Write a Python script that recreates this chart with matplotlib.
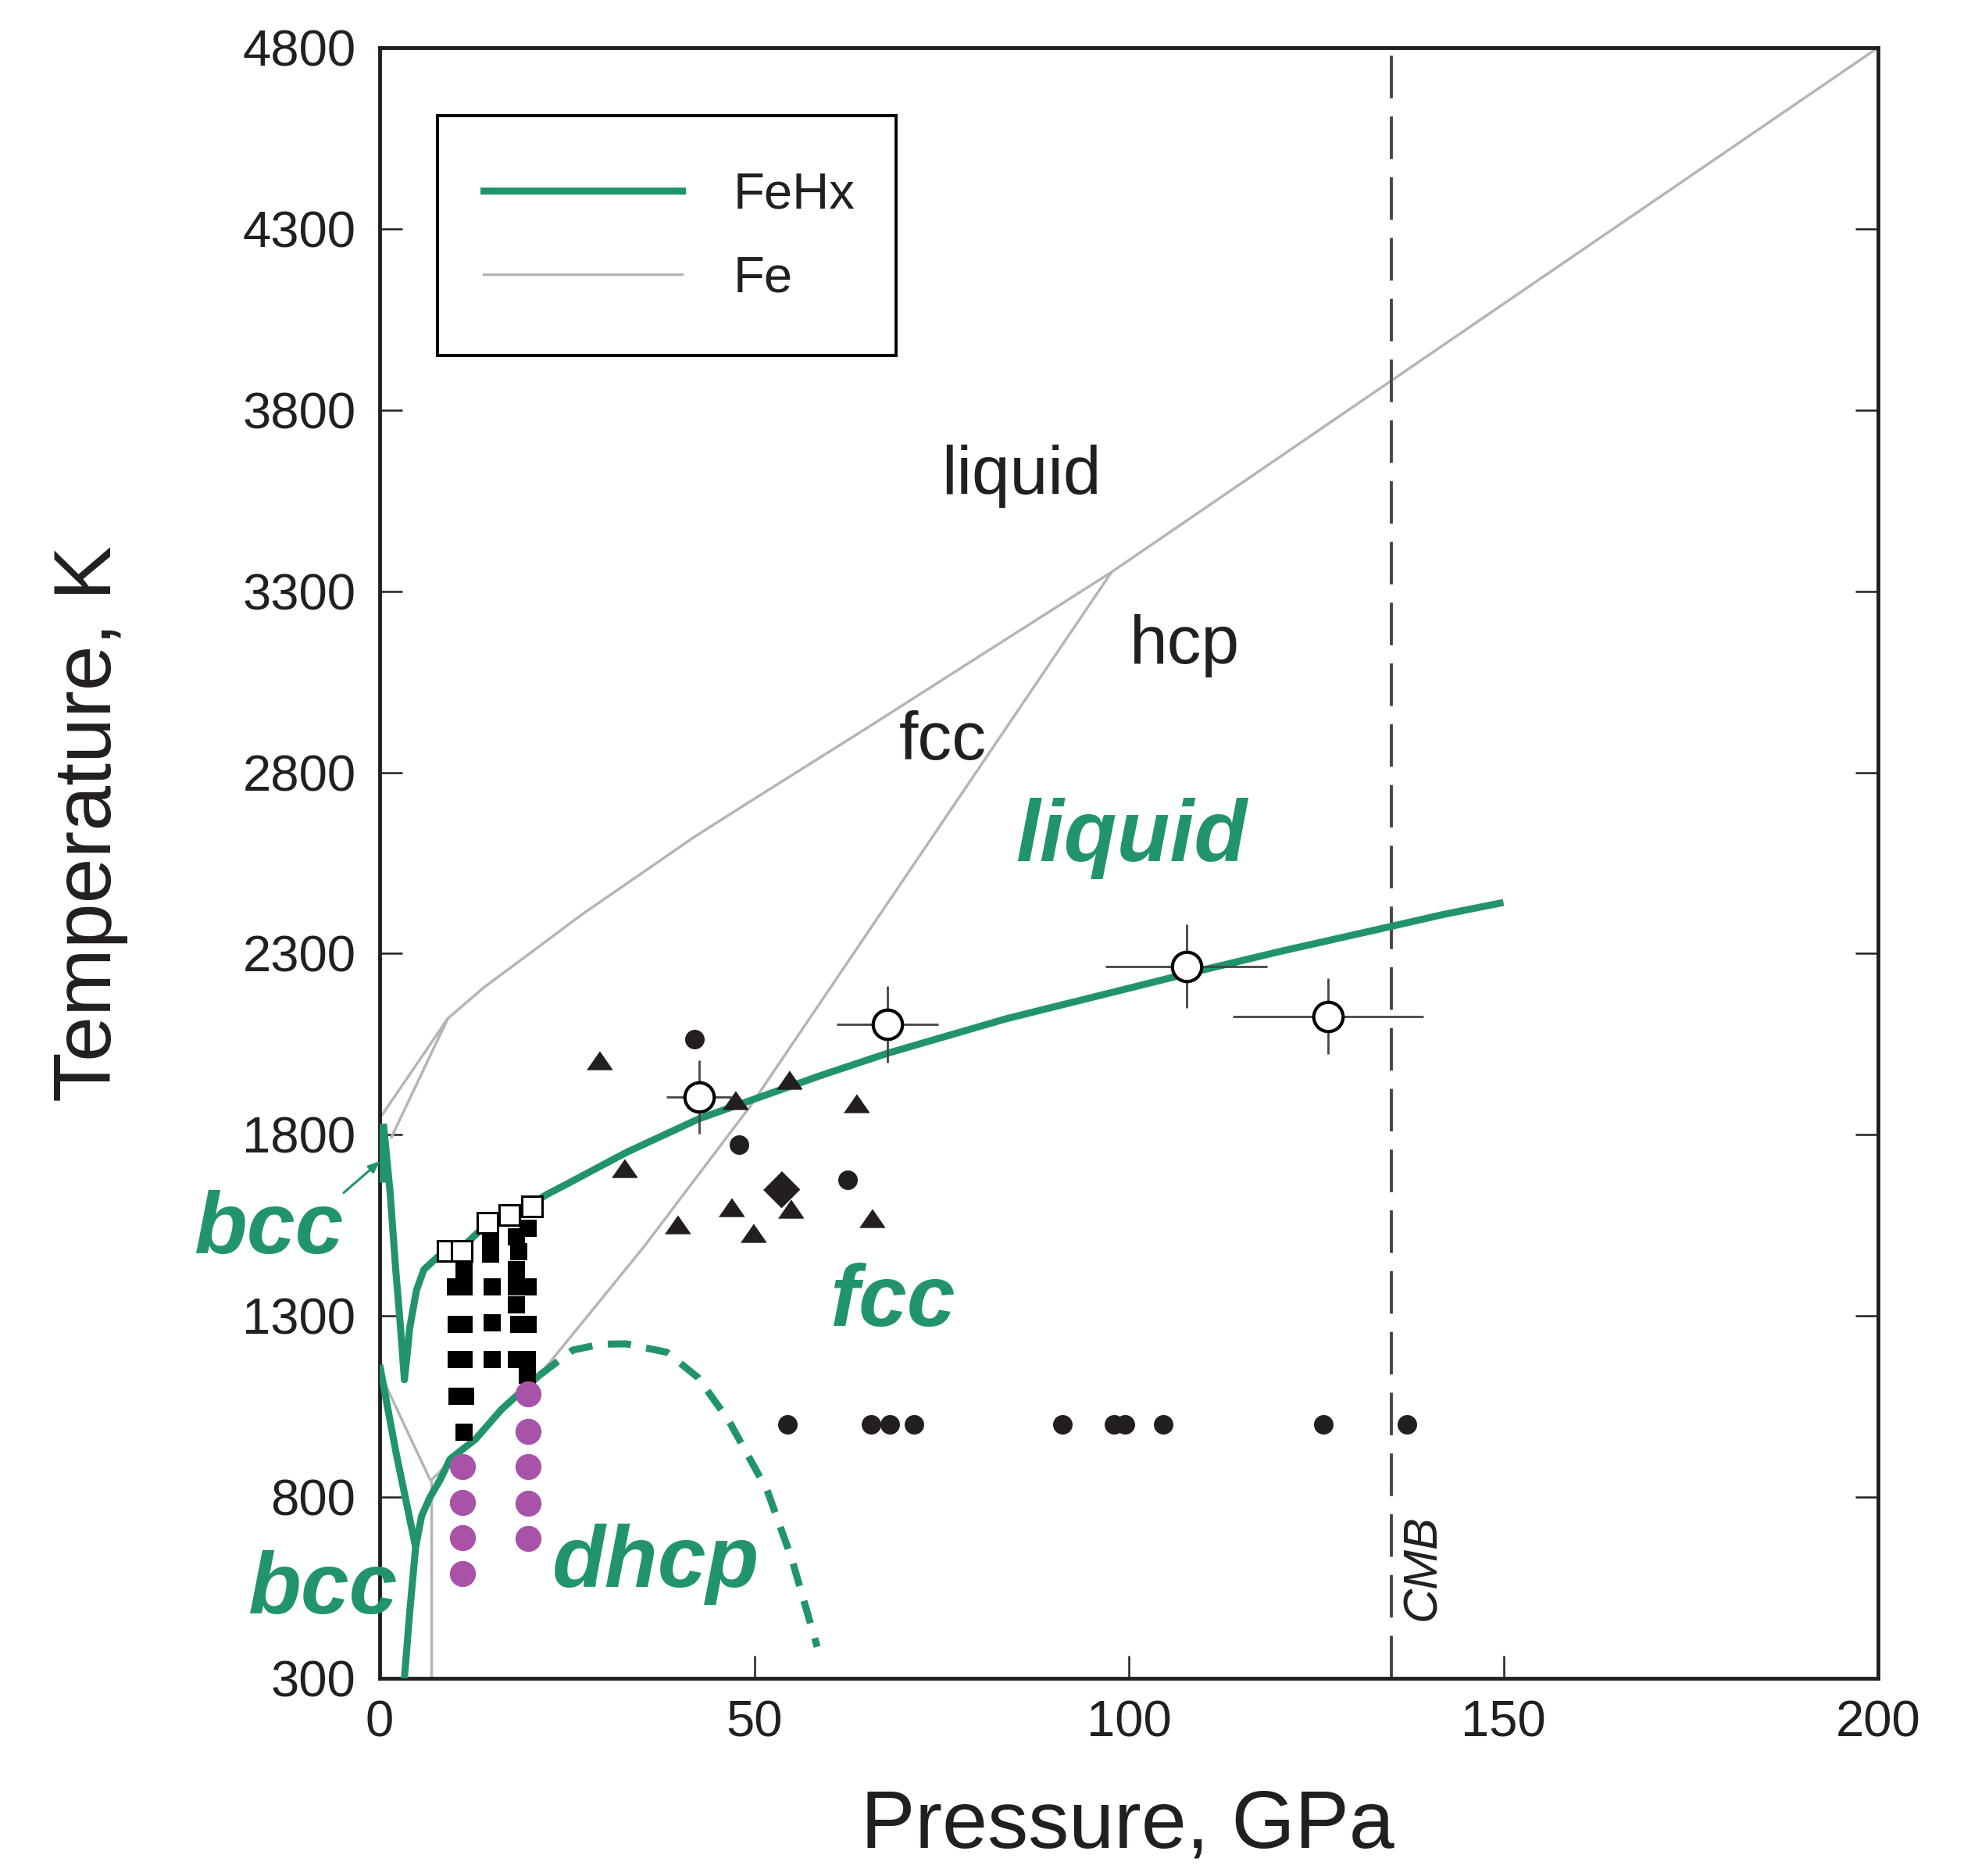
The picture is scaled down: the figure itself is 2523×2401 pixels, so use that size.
import matplotlib
matplotlib.use("Agg")
import matplotlib.pyplot as plt
from matplotlib.lines import Line2D
from matplotlib.patches import Rectangle

plt.rcParams['font.family'] = ['Liberation Sans', 'DejaVu Sans']

# ---------------- data ----------------
x_ticks = [0, 50, 100, 150, 200]
y_ticks = [300, 800, 1300, 1800, 2300, 2800, 3300, 3800, 4300, 4800]

# Fe (grey) phase boundaries
fe_melt_P = [0.0, 9.1, 14.0, 20.0, 27.0, 35.0, 42.0, 50.0, 65.0, 80.0, 97.7, 200.0]
fe_melt_T = [1845, 2121, 2208, 2300, 2408, 2522, 2622, 2727, 2922, 3120, 3353, 4800]
fe_delta_P = [1.5, 9.1]
fe_delta_T = [1790, 2121]
fe_hcp_P = [6.8, 21.3, 35.2, 49.4, 97.7]
fe_hcp_T = [845, 1136, 1489, 1877, 3353]
fe_alpha_P = [0.0, 6.8]
fe_alpha_T = [1144, 845]
fe_vert_P = [6.85, 6.85]
fe_vert_T = [845, 300]

# FeHx (green) boundaries
fehx_melt_P = [0.5, 1.4, 2.1, 2.8, 3.3, 3.7, 4.0, 4.9, 5.9, 7.7, 9.1, 11.3, 14.4,
               17.3, 20.3, 22.3, 24.8, 33.0, 42.6, 58.8, 67.8, 83.6, 107.7, 120.0,
               135.0, 142.0, 150.0]
fehx_melt_T = [1830, 1640, 1439, 1264, 1124, 1200, 1265, 1370, 1428, 1462, 1478, 1495,
               1555, 1582, 1610, 1635, 1662, 1752, 1844, 1963, 2025, 2120, 2244, 2305,
               2375, 2408, 2441]
fehx_axis_P = [0.3, 0.3]
fehx_axis_T = [1830, 1670]
fehx_bccfcc_P = [0.0, 2.2, 4.8]
fehx_bccfcc_T = [1165, 921, 662]
fehx_stem_P = [4.8, 4.0, 3.3, 3.0]
fehx_stem_T = [662, 480, 300, 240]
fehx_dhcp_P = [4.8, 5.6, 6.7, 8.1, 9.4, 12.8, 16.3, 21.3]
fehx_dhcp_T = [662, 748, 799, 849, 905, 960, 1043, 1136]
fehx_dash_P = [21.3, 25.8, 29.5, 32.9, 38.3, 42.5, 46.6, 51.7, 55.0, 58.4]
fehx_dash_T = [1136, 1206, 1222, 1223, 1200, 1130, 1011, 820, 630, 387]

# experimental points
open_sq_P = [9.1, 11.0, 14.4, 17.3, 20.3]
open_sq_T = [1480, 1480, 1558, 1578, 1602]

black_sq_P = [11.3, 10.1, 11.3, 10.2, 11.3, 10.2, 11.3, 10.3, 11.5, 11.3,
              14.8, 14.8, 15.0, 15.0, 15.0,
              18.2, 19.8, 18.6, 18.2, 18.2, 19.8, 18.3, 18.6, 19.8, 18.2, 19.7, 19.7]
black_sq_T = [1424, 1380, 1380, 1277, 1277, 1180, 1180, 1079, 1079, 980,
              1500, 1470, 1380, 1280, 1180,
              1518, 1541, 1478, 1428, 1380, 1380, 1331, 1277, 1277, 1180, 1180, 1137]

pink_P = [11.1, 11.1, 11.1, 11.1, 19.8, 19.8, 19.8, 19.8, 19.8]
pink_T = [885, 785, 688, 588, 1085, 982, 884, 784, 686]

tri_P = [29.3, 47.4, 54.6, 63.6, 32.6, 46.9, 54.8, 39.7, 49.8, 65.7]
tri_T = [2006, 1895, 1952, 1888, 1708, 1600, 1596, 1553, 1528, 1571]

dot_P = [42.0, 48.0, 62.5, 54.4, 65.6, 68.1, 71.3, 91.1, 98.0, 99.5, 104.6, 126.0, 137.1]
dot_T = [2064, 1773, 1676, 1000, 1000, 1000, 1000, 1000, 1000, 1000, 1000, 1000, 1000]

diamond_P = [53.6]
diamond_T = [1650]

circ_P = [42.6, 67.8, 107.7, 126.6]
circ_T = [1904, 2105, 2265, 2127]
circ_Perr = [4.3, 6.8, 10.8, 12.7]
circ_Terr = [102, 105, 115, 105]

cmb_P = 135.0

legend_labels = ['FeHx', 'Fe']

# ---------------- styling ----------------
GREEN = '#22946c'
GREY = '#b5b5b5'
PINK = '#a953a8'
INK = '#231f20'
DARK = '#454545'

W, H = 2523, 2401
fig = plt.figure(figsize=(W / 100, H / 100), dpi=100)
ax = fig.add_axes([486 / W, 1 - 2148 / H, 1918 / W, 2087 / H])

ax.set_xlim(0, 200)
ax.set_ylim(300, 4800)

lw_g = 6.5
lw_grey = 2.5

for P, T in [(fe_melt_P, fe_melt_T), (fe_delta_P, fe_delta_T), (fe_hcp_P, fe_hcp_T),
             (fe_alpha_P, fe_alpha_T), (fe_vert_P, fe_vert_T)]:
    ax.plot(P, T, color=GREY, lw=lw_grey, zorder=2, solid_capstyle='butt',
            solid_joinstyle='round')

ax.axvline(cmb_P, color=DARK, lw=2.8, dashes=(14, 6), zorder=2)

for P, T in [(fehx_melt_P, fehx_melt_T), (fehx_axis_P, fehx_axis_T),
             (fehx_bccfcc_P, fehx_bccfcc_T), (fehx_stem_P, fehx_stem_T),
             (fehx_dhcp_P, fehx_dhcp_T)]:
    ax.plot(P, T, color=GREEN, lw=lw_g, zorder=3, solid_joinstyle='round',
            solid_capstyle='butt')
ax.plot(fehx_dash_P, fehx_dash_T, color=GREEN, lw=lw_g, dashes=(3.3, 2.2), zorder=3)

# markers
tri_marker = [(-1, -0.72), (1, -0.72), (0, 0.72)]
dia_marker = [(0, 1), (1, 0), (0, -1), (-1, 0)]
ax.plot(tri_P, tri_T, ls='none', marker=tri_marker, ms=23, color=INK, zorder=5)
ax.plot(dot_P, dot_T, ls='none', marker='o', ms=18, color=INK, mew=0, zorder=5)
ax.plot(diamond_P, diamond_T, ls='none', marker=dia_marker, ms=33, color=INK, zorder=5)
ax.plot(black_sq_P, black_sq_T, ls='none', marker='s', ms=16, color='black', mew=0, zorder=5)
ax.plot(open_sq_P, open_sq_T, ls='none', marker='s', ms=19, mfc='white', mec='black',
        mew=2.2, zorder=6)
ax.plot(pink_P, pink_T, ls='none', marker='o', ms=24, color=PINK, mew=0, zorder=6)
ax.errorbar(circ_P, circ_T, xerr=circ_Perr, yerr=circ_Terr, fmt='none', ecolor=DARK,
            elinewidth=2.0, capsize=0, zorder=6)
ax.plot(circ_P, circ_T, ls='none', marker='o', ms=27, mfc='white', mec='black', mew=3.0,
        zorder=7)

# region labels
ax.text(85.7, 3568, 'liquid', fontsize=63, color=INK, ha='center', va='baseline')
ax.text(107.4, 3100, 'hcp', fontsize=63, color=INK, ha='center', va='baseline')
ax.text(75.2, 2836, 'fcc', fontsize=63, color=INK, ha='center', va='baseline')
gkw = dict(fontsize=80, color=GREEN, fontweight='bold', fontstyle='italic',
           ha='center', va='baseline')
ax.text(100.3, 2555, 'liquid', **gkw)
ax.text(68.5, 1272, 'fcc', **gkw)
ax.text(36.9, 553, 'dhcp', **gkw)
ax.text(-14.8, 1473, 'bcc', clip_on=False, **gkw)
ax.text(-7.6, 480, 'bcc', clip_on=False, **gkw)
ax.text(139.3, 605, 'CMB', fontsize=44, color=INK, fontstyle='italic', rotation=90,
        ha='center', va='center')
ax.annotate('', xy=(0.1, 1728), xytext=(-4.8, 1640), annotation_clip=False,
            arrowprops=dict(arrowstyle='-|>,head_length=0.9,head_width=0.35',
                            color=GREEN, lw=2.2, shrinkA=0, shrinkB=0))

# axes styling
ax.set_xticks(x_ticks)
ax.set_yticks(y_ticks)
ax.tick_params(axis='both', direction='in', length=21, width=1.8, colors=INK,
               labelsize=47, right=True, top=False)
ax.tick_params(axis='x', pad=20)
ax.tick_params(axis='y', pad=22)
for s in ax.spines.values():
    s.set_linewidth(3.5)
    s.set_color(INK)

fig.text(116 / W, 1 - 1054 / H, 'Temperature, K', fontsize=75, color=INK,
         rotation=90, ha='center', va='center')
fig.text(1443 / W, 1 - 2365 / H, 'Pressure, GPa', fontsize=75, color=INK,
         ha='center', va='baseline')

# legend (entries) + separate frame box
handles = [Line2D([], [], color=GREEN, lw=lw_g), Line2D([], [], color=GREY, lw=lw_grey)]
leg = ax.legend(handles, legend_labels, loc='upper left',
                bbox_to_anchor=(0.0386, 0.9583 - 0.0062), fontsize=47, frameon=False,
                borderpad=0.9, handlelength=3.9, handletextpad=1.0, labelspacing=0.72,
                borderaxespad=0)
for t in leg.get_texts():
    t.set_color(INK)
ax.add_patch(Rectangle((0.0386, 0.8112), 0.3446 - 0.0386, 0.9583 - 0.8112,
                       transform=ax.transAxes, fill=False, edgecolor='black',
                       lw=2.8, zorder=8))

fig.savefig('out.png', dpi=100, facecolor='white')
